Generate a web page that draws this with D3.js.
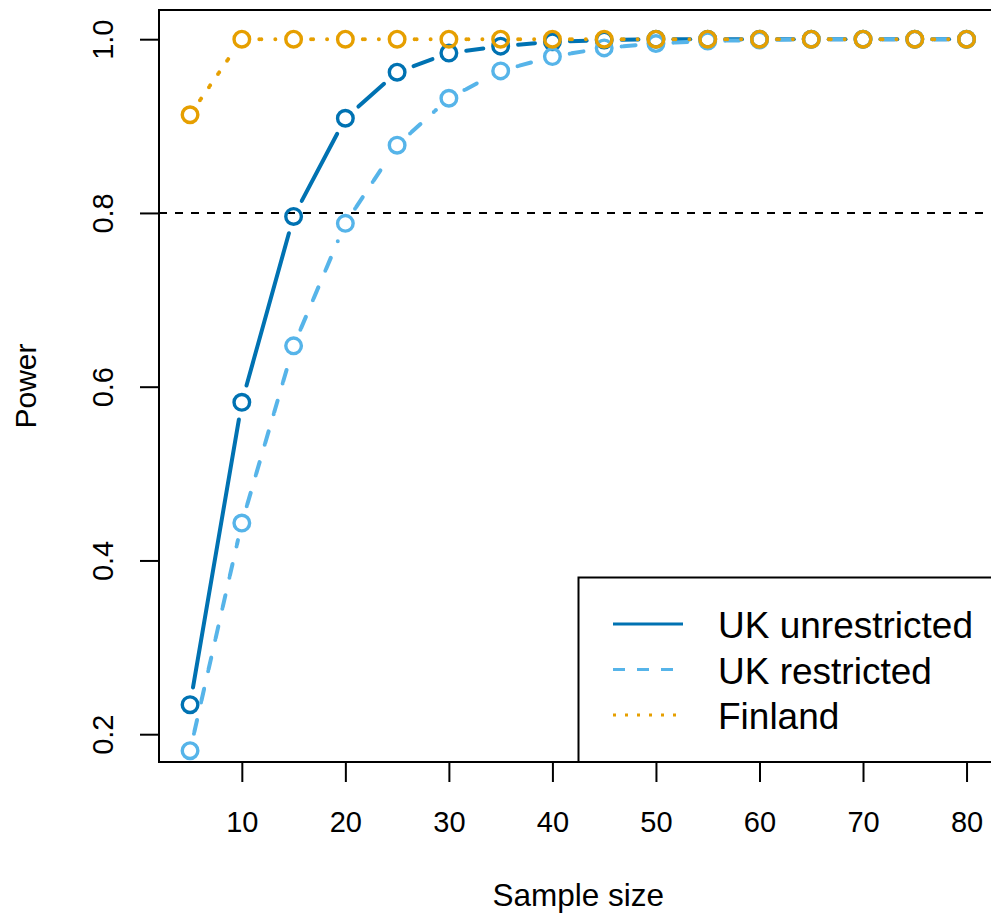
<!DOCTYPE html>
<html>
<head>
<meta charset="utf-8">
<script src="https://cdn.jsdelivr.net/npm/d3@7"></script>
<style>
  html, body { margin: 0; padding: 0; background: #fff; }
  svg { display: block; }
  text { font-family: "Liberation Sans", Arial, Helvetica, sans-serif; fill: #000; }
</style>
</head>
<body>
<svg id="chart" width="991" height="918"></svg>
<script>
// ---- data ----
const sampleSizes = [5, 10, 15, 20, 25, 30, 35, 40, 45, 50, 55, 60, 65, 70, 75, 80];
const ukUnrestricted = [0.234, 0.582, 0.796, 0.909, 0.962, 0.984, 0.992, 0.997, 0.999, 1.0, 1.0, 1.0, 1.0, 1.0, 1.0, 1.0];
const ukRestricted   = [0.181, 0.443, 0.647, 0.788, 0.878, 0.932, 0.9635, 0.980, 0.990, 0.995, 0.998, 0.999, 1.0, 1.0, 1.0, 1.0];
const finland        = [0.913, 1.0, 1.0, 1.0, 1.0, 1.0, 1.0, 1.0, 1.0, 1.0, 1.0, 1.0, 1.0, 1.0, 1.0, 1.0];
const seriesNames = ["UK unrestricted", "UK restricted", "Finland"];
const seriesColors = ["#0072B2", "#56B4E9", "#E69F00"];
const xTicks = [10, 20, 30, 40, 50, 60, 70, 80];
const yTicks = [0.2, 0.4, 0.6, 0.8, 1.0];
const refLine = 0.8;
const xLabel = "Sample size";
const yLabel = "Power";

// ---- layout ----
const svg = d3.select("#chart");
const L = 159, R = 997.6, T = 10, B = 762;
const x = d3.scaleLinear().domain([2, 83]).range([L, R]);
const y = d3.scaleLinear().domain([0.168, 1.0336]).range([B, T]);

// reference line
svg.append("line")
  .attr("x1", L).attr("x2", R)
  .attr("y1", y(refLine)).attr("y2", y(refLine))
  .attr("stroke", "#000").attr("stroke-width", 2)
  .attr("stroke-dasharray", "8,8");

// series (type "b": points with gapped segments)
const seriesValues = [ukUnrestricted, ukRestricted, finland];
const dashes = [null, "0,2,12,18", "0,2,0.01,13.99"];
const gap = 17.5;
seriesValues.forEach((vals, si) => {
  const g = svg.append("g");
  const pts = sampleSizes.map((s, i) => [x(s), y(vals[i])]);
  for (let i = 0; i < pts.length - 1; i++) {
    const [x1, y1] = pts[i], [x2, y2] = pts[i + 1];
    const dx = x2 - x1, dy = y2 - y1;
    const len = Math.hypot(dx, dy);
    if (len <= 2 * gap) continue;
    const ux = dx / len, uy = dy / len;
    g.append("line")
      .attr("x1", x1 + ux * gap).attr("y1", y1 + uy * gap)
      .attr("x2", x2 - ux * gap).attr("y2", y2 - uy * gap)
      .attr("stroke", seriesColors[si])
      .attr("stroke-width", 4)
      .attr("stroke-linecap", "round")
      .attr("stroke-dasharray", dashes[si]);
  }
  g.selectAll("circle").data(pts).join("circle")
    .attr("cx", d => d[0]).attr("cy", d => d[1])
    .attr("r", 7.8)
    .attr("fill", "none")
    .attr("stroke", seriesColors[si])
    .attr("stroke-width", 3.4);
});

// axes
const xAxis = svg.append("g")
  .attr("transform", `translate(0,${B})`)
  .call(d3.axisBottom(x).tickValues(xTicks).tickSize(20).tickSizeOuter(0).tickPadding(29).tickFormat(d3.format("d")));
xAxis.select(".domain").remove();
xAxis.selectAll(".tick line").attr("stroke", "#000").attr("stroke-width", 2);
xAxis.selectAll("text").attr("font-size", 29).attr("font-family", null).style("fill", "#000");

const yAxis = svg.append("g")
  .attr("transform", `translate(${L},0)`)
  .call(d3.axisLeft(y).tickValues(yTicks).tickSize(19).tickSizeOuter(0).tickFormat(d3.format(".1f")));
yAxis.select(".domain").remove();
yAxis.selectAll(".tick line").attr("stroke", "#000").attr("stroke-width", 2);
yAxis.selectAll("text")
  .attr("x", null).attr("dy", null)
  .attr("font-size", 29).attr("font-family", null)
  .attr("text-anchor", "middle")
  .attr("transform", "translate(-46.3,0) rotate(-90)")
  .style("fill", "#000");

// plot box
svg.append("rect")
  .attr("x", L).attr("y", T).attr("width", R - L).attr("height", B - T)
  .attr("fill", "none").attr("stroke", "#000").attr("stroke-width", 2);

// axis titles
svg.append("text")
  .attr("x", (L + R) / 2).attr("y", 906)
  .attr("text-anchor", "middle").attr("font-size", 31.5)
  .text(xLabel);
svg.append("text")
  .attr("transform", `translate(36,${(T + B) / 2}) rotate(-90)`)
  .attr("text-anchor", "middle").attr("font-size", 30)
  .text(yLabel);

// legend
const lg = svg.append("g");
lg.append("rect")
  .attr("x", 578.5).attr("y", 577.5).attr("width", 500).attr("height", B - 577.5)
  .attr("fill", "#fff").attr("stroke", "#000").attr("stroke-width", 2);
const legendDash = [null, "12,12", "3,9"];
seriesNames.forEach((name, i) => {
  const cy = 624 + i * 45.5;
  lg.append("line")
    .attr("x1", 613).attr("x2", 683)
    .attr("y1", cy).attr("y2", cy)
    .attr("stroke", seriesColors[i]).attr("stroke-width", 3)
    .attr("stroke-dasharray", legendDash[i]);
  lg.append("text")
    .attr("x", 718).attr("y", cy + 14)
    .attr("font-size", 37)
    .text(name);
});
</script>
</body>
</html>
